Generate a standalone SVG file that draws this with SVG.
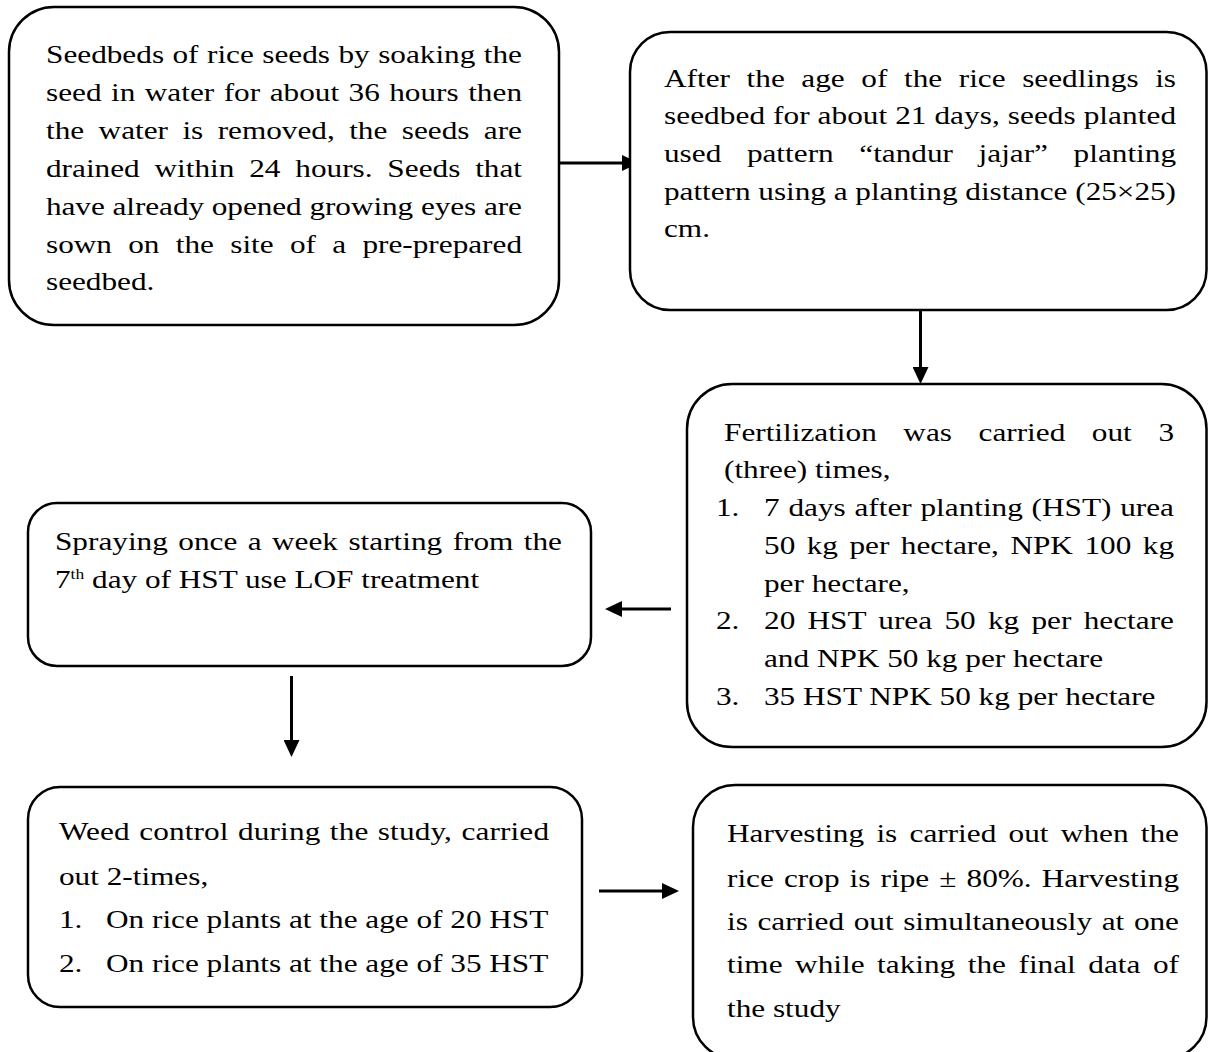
<svg xmlns="http://www.w3.org/2000/svg" width="1208" height="1052" viewBox="0 0 1208 1052">
<style>
.box{fill:#fff;stroke:#000;stroke-width:2.5}
.t{font-family:"Liberation Serif","Times New Roman",serif;font-size:25px;fill:#000}
.c{stroke:#000;stroke-width:3;fill:none}
</style>
<defs>
<marker id="ah" markerUnits="userSpaceOnUse" markerWidth="17" markerHeight="16" viewBox="0 0 17 16" refX="7" refY="8" orient="auto">
<path d="M0,0 L17,8 L0,16 z" fill="#000"/>
</marker>
</defs>
<rect width="1208" height="1052" fill="#fff"/>

<g id="connectors">
<line class="c" x1="559" y1="163" x2="629" y2="163" marker-end="url(#ah)"/>
<line class="c" x1="920.5" y1="305" x2="920.5" y2="374" marker-end="url(#ah)"/>
<line class="c" x1="671" y1="609" x2="615" y2="609" marker-end="url(#ah)"/>
<line class="c" x1="291.5" y1="676" x2="291.5" y2="747" marker-end="url(#ah)"/>
<line class="c" x1="599" y1="891" x2="669" y2="891" marker-end="url(#ah)"/>
</g>

<g id="node1">
<rect class="box" x="9" y="7" width="550" height="318" rx="45" ry="45"/>
<g class="t" transform="scale(1.25,1)">
<text x="36.8" y="63" word-spacing="0.5" textLength="380.8" lengthAdjust="spacing">Seedbeds of rice seeds by soaking the</text>
<text x="36.8" y="101" word-spacing="1.3" textLength="380.8" lengthAdjust="spacing">seed in water for about 36 hours then</text>
<text x="36.8" y="139" word-spacing="5.3" textLength="380.8" lengthAdjust="spacing">the water is removed, the seeds are</text>
<text x="36.8" y="177" word-spacing="5.6" textLength="380.8" lengthAdjust="spacing">drained within 24 hours. Seeds that</text>
<text x="36.8" y="215" textLength="380.8" lengthAdjust="spacing">have already opened growing eyes are</text>
<text x="36.8" y="253" word-spacing="6.8" textLength="380.8" lengthAdjust="spacing">sown on the site of a pre-prepared</text>
<text x="36.8" y="290">seedbed.</text>
</g>
</g>

<g id="node2">
<rect class="box" x="630" y="32" width="576.5" height="278" rx="40" ry="40"/>
<g class="t" transform="scale(1.25,1)">
<text x="531.2" y="87" word-spacing="7" textLength="409.6" lengthAdjust="spacing">After the age of the rice seedlings is</text>
<text x="531.2" y="124" textLength="409.6" lengthAdjust="spacing">seedbed for about 21 days, seeds planted</text>
<text x="531.2" y="162" word-spacing="14.2" textLength="409.6" lengthAdjust="spacing">used pattern “tandur jajar” planting</text>
<text x="531.2" y="200" textLength="409.6" lengthAdjust="spacing">pattern using a planting distance (25×25)</text>
<text x="531.2" y="237">cm.</text>
</g>
</g>

<g id="node3">
<rect class="box" x="687" y="384" width="519.5" height="363" rx="45" ry="45"/>
<g class="t" transform="scale(1.25,1)">
<text x="579.2" y="441" word-spacing="15" textLength="360" lengthAdjust="spacing">Fertilization was carried out 3</text>
<text x="579.2" y="478">(three) times,</text>
<text x="572.8" y="516">1.</text>
<text x="611.2" y="516" word-spacing="0.8" textLength="328" lengthAdjust="spacing">7 days after planting (HST) urea</text>
<text x="611.2" y="554" word-spacing="2.9" textLength="328" lengthAdjust="spacing">50 kg per hectare, NPK 100 kg</text>
<text x="611.2" y="592">per hectare,</text>
<text x="572.8" y="629">2.</text>
<text x="611.2" y="629" word-spacing="3.5" textLength="328" lengthAdjust="spacing">20 HST urea 50 kg per hectare</text>
<text x="611.2" y="667">and NPK 50 kg per hectare</text>
<text x="572.8" y="705">3.</text>
<text x="611.2" y="705">35 HST NPK 50 kg per hectare</text>
</g>
</g>

<g id="node4">
<rect class="box" x="28" y="503" width="563" height="163" rx="29" ry="29"/>
<g class="t" transform="scale(1.25,1)">
<text x="44" y="550" word-spacing="2.1" textLength="405.6" lengthAdjust="spacing">Spraying once a week starting from the</text>
<text x="44" y="588">7<tspan font-size="14" dy="-9">th</tspan><tspan dy="9"> day of HST use LOF treatment</tspan></text>
</g>
</g>

<g id="node5">
<rect class="box" x="28" y="787" width="554" height="220" rx="32" ry="32"/>
<g class="t" transform="scale(1.25,1)">
<text x="47.2" y="840" word-spacing="1.2" textLength="392" lengthAdjust="spacing">Weed control during the study, carried</text>
<text x="47.2" y="885">out 2-times,</text>
<text x="47.2" y="928">1.</text>
<text x="84.8" y="928">On rice plants at the age of 20 HST</text>
<text x="47.2" y="972">2.</text>
<text x="84.8" y="972">On rice plants at the age of 35 HST</text>
</g>
</g>

<g id="node6">
<rect class="box" x="693" y="785" width="513.5" height="274" rx="42" ry="42"/>
<g class="t" transform="scale(1.25,1)">
<text x="581.6" y="842" word-spacing="3.6" textLength="361.6" lengthAdjust="spacing">Harvesting is carried out when the</text>
<text x="581.6" y="887" word-spacing="1.8" textLength="361.6" lengthAdjust="spacing">rice crop is ripe ± 80%. Harvesting</text>
<text x="581.6" y="930" word-spacing="1.5" textLength="361.6" lengthAdjust="spacing">is carried out simultaneously at one</text>
<text x="581.6" y="973" word-spacing="3.8" textLength="361.6" lengthAdjust="spacing">time while taking the final data of</text>
<text x="581.6" y="1017">the study</text>
</g>
</g>
</svg>
